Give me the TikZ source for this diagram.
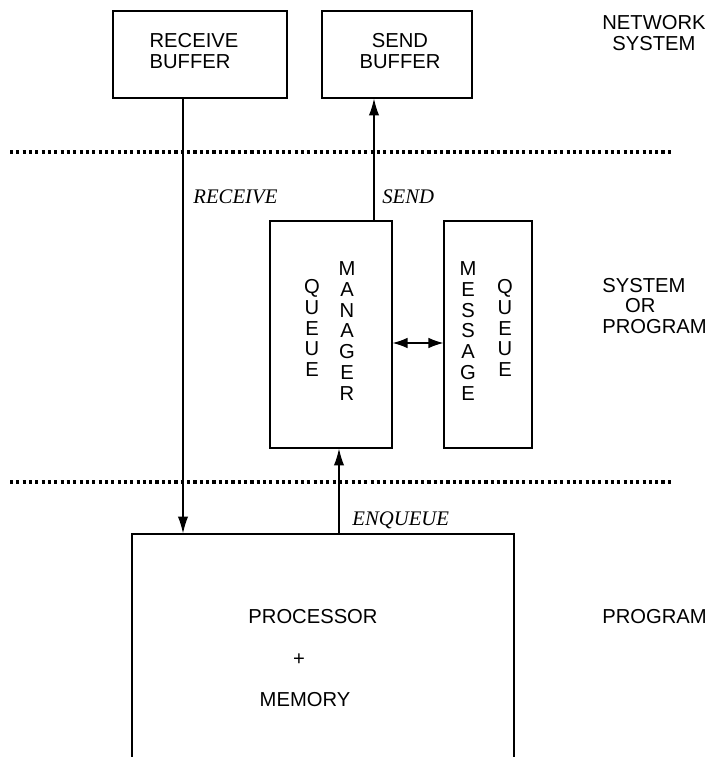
\documentclass[tikz,border=0pt]{standalone}
\usepackage{fontspec}
\setmainfont{Liberation Sans}
\newfontfamily\lblfont{Liberation Serif}
\usetikzlibrary{arrows.meta}

\begin{document}
\begin{tikzpicture}[x=0.02cm, y=-0.02cm]
\tikzset{boite/.style={draw, line width=0.7pt, inner sep=0pt},
  txt/.style={font=\fontsize{11.5}{11.8}\selectfont, inner sep=0pt, align=center},
  lbl/.style={font=\lblfont\itshape\fontsize{11.8}{13}\selectfont, inner sep=0pt, anchor=west},
  pointe/.tip={Latex[length=9.5pt,width=5.8pt]},
  fleche/.style={line width=0.7pt, -pointe},
  pointille/.style={line width=1.8pt, dash pattern=on 1.8pt off 1.8pt}}
\clip (0,0) rectangle (711,757);
% boxes
\node[boite, minimum width=3.48cm, minimum height=1.74cm] (R) at (200,54.5) {};
\node[boite, minimum width=3.0cm, minimum height=1.74cm] (S) at (397,54.5) {};
\node[boite, minimum width=2.44cm, minimum height=4.54cm] (QM) at (331,334.5) {};
\node[boite, minimum width=1.76cm, minimum height=4.54cm] (MQ) at (488,334.5) {};
\node[boite, minimum width=7.64cm, minimum height=5.6cm] (P) at (323,674) {};
% texts
\node[txt, align=left] (Rt) at (194,51) {RECEIVE\\BUFFER};
\node[txt] (St) at (400,51) {SEND\\BUFFER};
\node[txt] (Q1) at (312,328) {Q\\U\\E\\U\\E};
\node[txt] (M1) at (347,331) {M\\A\\N\\A\\G\\E\\R};
\node[txt] (M2) at (468,331) {M\\E\\S\\S\\A\\G\\E};
\node[txt] (Q2) at (505,328) {Q\\U\\E\\U\\E};
\node[txt] (Pt) at (313,617) {PROCESSOR};
\node[txt] (plus) at (299,660) {+};
\node[txt] (Mt) at (305,700) {MEMORY};
\node[txt] (net) at (654,33) {NETWORK\\SYSTEM};
\node[txt, align=left, anchor=west] (sys) at (602,306) {SYSTEM\\\hspace*{13pt}OR\\PROGRAM};
\node[txt, anchor=west] (prg) at (602,617) {PROGRAM};
% level separators
\draw[pointille] (10,152) -- (672,152);
\draw[pointille] (10,482) -- (672,482);
% connectors
\draw[fleche] (R.south -| 183,0) -- (P.north -| 183,0);
\draw[fleche] (QM.north -| 374,0) -- (S.south -| 374,0);
\draw[fleche] (P.north -| 339,0) -- (QM.south -| 339,0);
\draw[line width=0.7pt, {Latex[length=8.5pt,width=6pt]}-{Latex[length=8.5pt,width=6pt]}] (QM.east |- 0,343) -- (MQ.west |- 0,343);
\node[lbl] (rcv) at (193,197) {RECEIVE};
\node[lbl] (snd) at (382,197) {SEND};
\node[lbl] (enq) at (352,520) {ENQUEUE};
\end{tikzpicture}
\end{document}
